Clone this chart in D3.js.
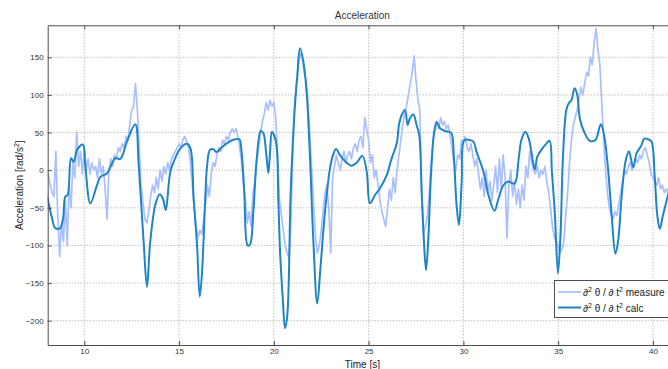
<!DOCTYPE html>
<html><head><meta charset="utf-8">
<script src="https://cdn.jsdelivr.net/npm/d3@7"></script>
<style>
html,body{margin:0;padding:0;background:#fff;overflow:hidden}
svg{display:block;font-family:"Liberation Sans",Arial,sans-serif}
</style></head>
<body><svg id="c" width="668" height="369"></svg>
<script>
// ---- data ----
const xTicks = [10, 15, 20, 25, 30, 35, 40];
const yTicks = [-200, -150, -100, -50, 0, 50, 100, 150];
const xDomain = [8.07, 41.27];
const yDomain = [-232.3, 192.5];

const measureStart = 8.0, measureStep = 0.1;
const measureV = [
 -10,-5,-20,-30,-35,25,-60,-115,-70,-95,
 -40,-100,-20,-50,10,-10,50,5,25,-5,
 30,0,15,-5,10,0,5,-10,15,-5,
 5,-25,-65,0,15,5,20,15,30,25,
 35,30,45,40,60,80,85,115,80,30,
 -20,-45,-65,-70,-55,-35,-20,-30,-10,-25,
 0,-15,5,-5,10,0,15,20,25,30,
 35,30,40,45,38,30,10,-20,-50,-75,
 -90,-80,-85,-65,-45,-20,-35,-5,10,5,
 20,30,25,40,35,45,40,50,55,50,
 55,45,30,10,-20,-40,-70,-55,-75,-30,
 -15,10,30,50,65,75,90,80,93,85,
 90,70,20,-40,-60,-80,-100,-110,-117,-70,
 20,90,115,140,155,150,130,120,90,50,
 0,-45,-90,-110,-100,-80,-55,-30,-20,-50,
 -110,-10,5,20,10,0,15,25,10,20,
 25,15,30,35,25,40,45,30,70,55,
 40,10,20,-10,0,-20,-40,-55,-65,-75,
 -50,-25,-40,-10,-30,0,20,40,60,75,
 85,100,115,130,152,120,95,80,-30,-85,
 -75,-60,-30,10,40,50,65,55,70,60,
 65,55,60,45,30,10,0,20,15,40,
 35,45,30,25,35,20,5,15,-5,-25,
 -10,-35,0,-30,-15,-40,-20,5,-30,15,
 -25,20,-10,-90,-20,0,-35,-15,-45,-25,
 -50,-20,-40,5,-10,25,10,0,-5,5,
 -10,0,-5,5,-15,-30,-50,-75,-90,-95,
 -100,-110,-105,-95,-60,-30,10,40,60,70,
 80,95,110,100,115,130,125,150,140,170,
 188,160,140,90,40,0,-30,-50,-60,-65,
 -55,-60,-45,-30,-15,0,-5,5,10,0,
 5,15,10,20,15,25,30,20,10,-5,
 -10,-15,-20,-10,-25,-20,-30,-25,-30
];

const calcT = [8.03,8.3,8.47,8.73,8.88,9.0,9.12,9.3,9.44,9.62,9.93,10.05,10.32,10.67,10.85,11.2,11.64,11.9,12.25,12.69,12.87,13.13,13.31,13.48,13.75,13.98,14.15,14.3,14.54,14.8,15.07,15.42,15.6,15.77,15.95,16.09,16.21,16.38,16.47,16.63,16.81,16.98,17.25,17.6,17.95,18.18,18.3,18.44,18.62,18.74,18.92,19.1,19.31,19.45,19.59,19.71,19.8,19.9,20.11,20.24,20.33,20.47,20.59,20.71,20.89,21.08,21.24,21.38,21.56,21.73,21.91,22.08,22.29,22.47,22.7,22.96,23.1,23.28,23.49,23.84,24.1,24.37,24.67,24.9,25.07,25.34,25.6,25.95,26.22,26.48,26.6,26.74,26.92,27.06,27.18,27.36,27.53,27.67,27.8,27.92,28.03,28.15,28.29,28.46,28.59,28.76,29.03,29.35,29.5,29.64,29.77,29.91,30.05,30.35,30.53,30.7,31.06,31.32,31.64,31.85,32.11,32.37,32.7,32.92,33.06,33.27,33.45,33.59,33.77,33.9,34.11,34.37,34.55,34.67,34.82,34.99,35.13,35.25,35.43,35.56,35.7,35.87,36.01,36.14,36.37,36.67,36.96,37.25,37.42,37.63,37.81,38.02,38.16,38.34,38.55,38.73,38.96,39.13,39.39,39.54,39.75,39.92,40.1,40.23,40.36,40.53,40.8,41.0];
const calcV = [-33,-64,-77,-77,-64,-35,-33,16,11,27,34,7,-44,-20,-9,-4,16,15,38,61,7,-95,-155,-95,-46,-32,-38,-53,-2,16,29,35,29,-38,-100,-168,-137,-38,3,27,28,24,30,37,41,41,24,-29,-100,-99,-55,16,52,49,24,-4,24,51,38,-42,-109,-170,-210,-193,-29,73,126,162,144,104,16,-91,-177,-126,-55,2,18,28,20,10,6,10,19,-2,-44,-33,-24,-7,16,35,60,73,80,60,69,74,60,47,-29,-95,-133,-91,-7,51,64,56,52,50,16,-46,-73,-16,40,40,38,24,-2,-33,-54,-38,-20,-15,-18,16,40,51,42,24,1,18,27,35,39,-2,-55,-137,-82,16,80,89,93,109,100,69,51,39,40,61,47,2,-55,-111,-95,-38,11,25,4,22,33,42,41,38,-11,-60,-78,-60,-33,-15];

const seriesNames = ["measure", "calc"];

// ---- layout ----
const svg = d3.select("#c");
const L = 47.7, T = 25.3, R = 677, B = 345;
const x = d3.scaleLinear().domain(xDomain).range([L, R]);
const y = d3.scaleLinear().domain(yDomain).range([B, T]);

const axisCol = "#4d4d4d";
const measureCol = "#aabfff";
const calcCol = "#1f84c6";

const defs = svg.append("defs");
defs.append("clipPath").attr("id","pc").append("rect")
  .attr("x", L).attr("y", T).attr("width", R - L).attr("height", B - T);

// grid
const grid = svg.append("g");
grid.selectAll("line.gx").data(xTicks).join("line")
  .attr("x1", d => x(d)).attr("x2", d => x(d)).attr("y1", T).attr("y2", B)
  .attr("stroke", "#8a8a8a").attr("stroke-width", 0.8).attr("stroke-dasharray", "1,2");
grid.selectAll("line.gy").data(yTicks).join("line")
  .attr("y1", d => y(d)).attr("y2", d => y(d)).attr("x1", L).attr("x2", R)
  .attr("stroke", "#8a8a8a").attr("stroke-width", 0.8).attr("stroke-dasharray", "1,2");

// series
const measure = measureV.map((v, i) => [measureStart + i * measureStep, v]);
const calc = calcT.map((t, i) => [t, calcV[i]]);

const plot = svg.append("g").attr("clip-path", "url(#pc)");
plot.append("path").datum(measure)
  .attr("d", d3.line().x(d => x(d[0])).y(d => y(d[1])))
  .attr("fill", "none").attr("stroke", measureCol).attr("stroke-width", 1.7)
  .attr("stroke-linejoin", "round");
plot.append("path").datum(calc)
  .attr("d", d3.line().x(d => x(d[0])).y(d => y(d[1])).curve(d3.curveCatmullRom.alpha(0.5)))
  .attr("fill", "none").attr("stroke", calcCol).attr("stroke-width", 2)
  .attr("stroke-linejoin", "round");

// axes (inward ticks)
const xAxisB = d3.axisBottom(x).tickValues(xTicks).tickSizeInner(-4).tickSizeOuter(0).tickPadding(4);
const gxb = svg.append("g").attr("transform", `translate(0,${B})`).call(xAxisB);
const xAxisT = d3.axisTop(x).tickValues(xTicks).tickSizeInner(-4).tickSizeOuter(0).tickFormat("");
const gxt = svg.append("g").attr("transform", `translate(0,${T})`).call(xAxisT);
const yAxisL = d3.axisLeft(y).tickValues(yTicks).tickSizeInner(-4).tickSizeOuter(0).tickPadding(4);
const gyl = svg.append("g").attr("transform", `translate(${L},0)`).call(yAxisL);
[gxb, gxt, gyl].forEach(g => {
  g.select(".domain").attr("stroke", axisCol).attr("stroke-width", 1);
  g.selectAll(".tick line").attr("stroke", axisCol);
  g.selectAll(".tick text").attr("fill", "#333").attr("font-size", 8)
    .attr("font-family", "Liberation Sans, Arial, sans-serif");
});
// bottom tick labels sit just beneath the axis
gxb.selectAll(".tick text").attr("dy", "0.6em");

// title & labels
svg.append("text").attr("x", (L + R) / 2).attr("y", 19).attr("text-anchor", "middle")
  .attr("font-size", 10).attr("fill", "#333").text("Acceleration");
svg.append("text").attr("x", (L + R) / 2).attr("y", 367.5).attr("text-anchor", "middle")
  .attr("font-size", 10).attr("fill", "#222").text("Time [s]");
const yl = svg.append("text").attr("transform", `translate(23,${(T + B) / 2}) rotate(-90)`)
  .attr("text-anchor", "middle").attr("font-size", 10).attr("fill", "#222");
yl.append("tspan").text("Acceleration [rad/s");
yl.append("tspan").attr("font-size", 7).attr("dy", -4).text("2");
yl.append("tspan").attr("dy", 4).text("]");

// legend
const lg = svg.append("g");
lg.append("rect").attr("x", 554.5).attr("y", 280.5).attr("width", 130).attr("height", 37)
  .attr("fill", "#fff").attr("stroke", axisCol).attr("stroke-width", 1);
const legendItems = [{name: seriesNames[0], col: measureCol, w: 1.7}, {name: seriesNames[1], col: calcCol, w: 2}];
legendItems.forEach((it, i) => {
  const yy = 292 + i * 15.5;
  lg.append("line").attr("x1", 558).attr("x2", 581).attr("y1", yy).attr("y2", yy)
    .attr("stroke", it.col).attr("stroke-width", it.w);
  const t = lg.append("text").attr("x", 583).attr("y", yy + 4).attr("font-size", 10).attr("fill", "#222");
  t.append("tspan").text("∂");
  t.append("tspan").attr("font-size", 7).attr("dy", -4).text("2");
  t.append("tspan").attr("dy", 4).text(" θ / ∂ t");
  t.append("tspan").attr("font-size", 7).attr("dy", -4).text("2");
  t.append("tspan").attr("dy", 4).text(" " + it.name);
});
</script></body></html>
